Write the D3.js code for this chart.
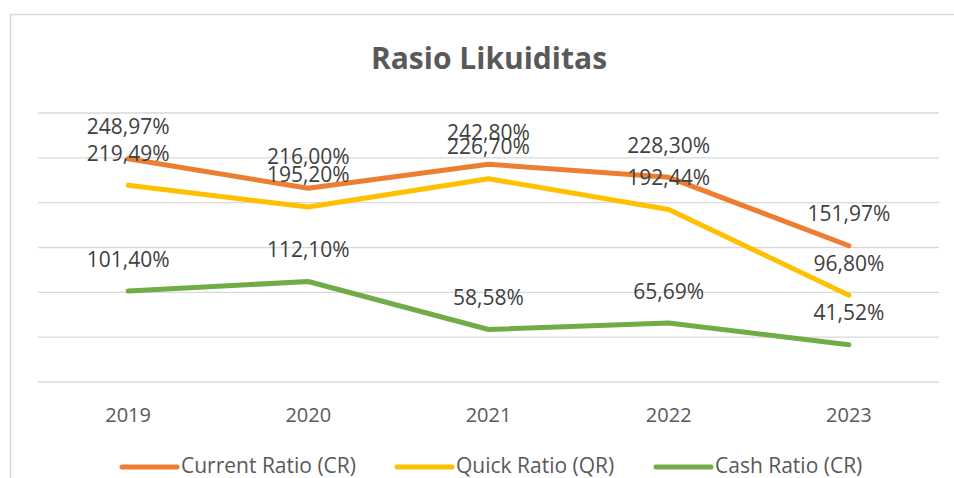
<!DOCTYPE html>
<html>
<head>
<meta charset="utf-8">
<script src="https://cdn.jsdelivr.net/npm/d3@7/dist/d3.min.js"></script>
<style>
  html, body { margin: 0; padding: 0; background: #fff; }
  svg { display: block; }
  text { font-family: "Open Sans", "Noto Sans", sans-serif; }
</style>
</head>
<body>
<svg id="chart" width="954" height="478"></svg>
<script>
const years = ["2019", "2020", "2021", "2022", "2023"];
const currentRatio = [248.97, 216.00, 242.80, 228.30, 151.97];
const quickRatio = [219.49, 195.20, 226.70, 192.44, 96.80];
const cashRatio = [101.40, 112.10, 58.58, 65.69, 41.52];
const seriesNames = ["Current Ratio (CR)", "Quick Ratio (QR)", "Cash Ratio (CR)"];
const seriesColors = ["#ED7D31", "#FFC000", "#70AD47"];
const yTicks = [0, 50, 100, 150, 200, 250, 300];

const series = [currentRatio, quickRatio, cashRatio].map((v, i) => ({
  name: seriesNames[i], color: seriesColors[i], values: v
}));

const svg = d3.select("#chart");

// chart border
svg.append("rect")
  .attr("x", 10.5).attr("y", 14.5)
  .attr("width", 960).attr("height", 500)
  .attr("fill", "#fff").attr("stroke", "#d9d9d9").attr("stroke-width", 1.5);

const x = d3.scaleBand().domain(years).range([38, 939]);
const y = d3.scaleLinear().domain([0, 300]).range([382, 113]);

// gridlines
svg.append("g").selectAll("line").data(yTicks).join("line")
  .attr("x1", 38).attr("x2", 939)
  .attr("y1", d => y(d)).attr("y2", d => y(d))
  .attr("stroke", "#d9d9d9").attr("stroke-width", 1.3);

// x axis labels
const xAxis = d3.axisBottom(x).tickSize(0).tickPadding(0);
const xg = svg.append("g").attr("transform", "translate(0,382)").call(xAxis);
xg.select(".domain").remove();
xg.selectAll("text")
  .attr("y", 40).attr("dy", 0)
  .attr("fill", "#595959")
  .style("font-size", "20px")
  .style("font-family", "'Open Sans', 'Noto Sans', sans-serif");

// title
svg.append("text")
  .attr("x", 489).attr("y", 69)
  .attr("text-anchor", "middle")
  .attr("fill", "#595959")
  .style("font-size", "30px").style("font-weight", "bold")
  .text("Rasio Likuiditas");

const line = d3.line()
  .x((d, i) => x(years[i]) + x.bandwidth() / 2)
  .y(d => y(d));

svg.append("g").selectAll("path").data(series).join("path")
  .attr("d", s => line(s.values))
  .attr("fill", "none")
  .attr("stroke", s => s.color)
  .attr("stroke-width", 5)
  .attr("stroke-linecap", "round")
  .attr("stroke-linejoin", "round");

const fmt = v => v.toFixed(2).replace(".", ",") + "%";

// data labels
series.forEach(s => {
  svg.append("g").selectAll("text").data(s.values).join("text")
    .attr("x", (d, i) => x(years[i]) + x.bandwidth() / 2)
    .attr("y", d => y(d) - 24.5)
    .attr("text-anchor", "middle")
    .attr("fill", "#404040")
    .style("font-size", "21px")
    .text(d => fmt(d));
});

// legend
const legendX = [122, 397, 656];
const lg = svg.append("g").selectAll("g").data(series).join("g")
  .attr("transform", (d, i) => `translate(${legendX[i]},467)`);
lg.append("line")
  .attr("x1", 0).attr("x2", 55).attr("y1", 0).attr("y2", 0)
  .attr("stroke", d => d.color).attr("stroke-width", 5)
  .attr("stroke-linecap", "round");
lg.append("text")
  .attr("x", 59).attr("y", 6)
  .attr("fill", "#595959")
  .style("font-size", "21px")
  .text(d => d.name);
</script>
</body>
</html>
